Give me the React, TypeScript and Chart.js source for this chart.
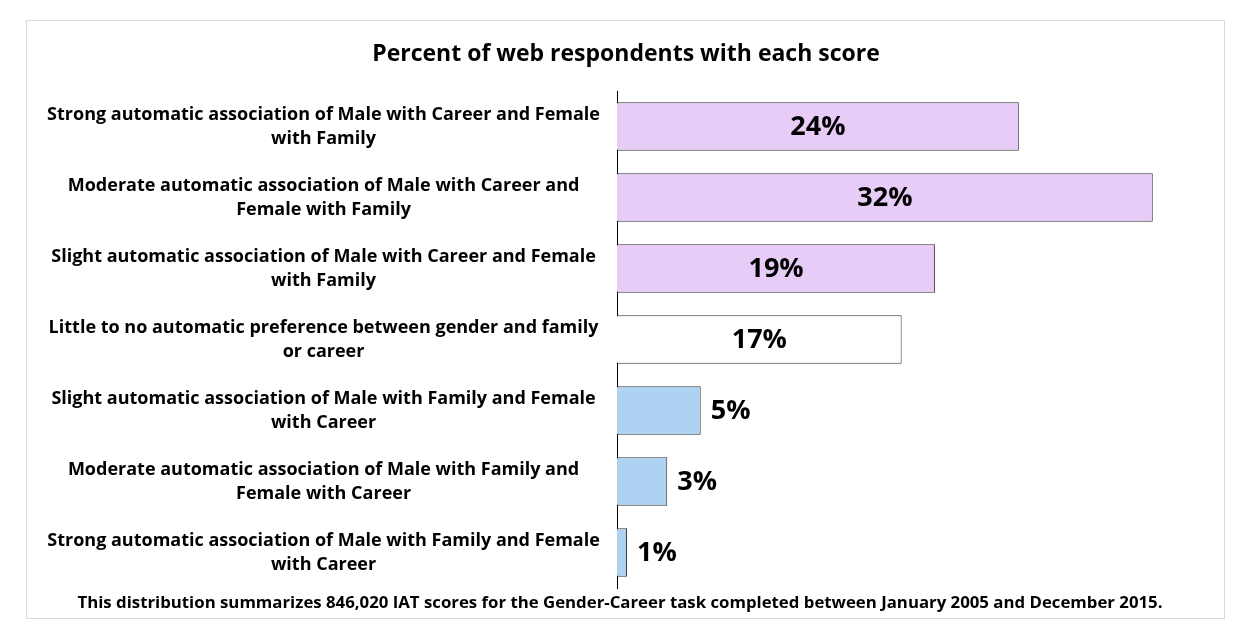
import React, { useEffect, useRef } from "react";
import { Chart, registerables } from "chart.js";

Chart.register(...registerables);

const categories: string[][] = [
  ["Strong automatic association of Male with Career and Female", "with Family"],
  ["Moderate automatic association of Male with Career and", "Female with Family"],
  ["Slight automatic association of Male with Career and Female", "with Family"],
  ["Little to no automatic preference between gender and family", "or career"],
  ["Slight automatic association of Male with Family and Female", "with Career"],
  ["Moderate automatic association of Male with Family and", "Female with Career"],
  ["Strong automatic association of Male with Family and Female", "with Career"],
];
const percentValues: number[] = [24, 32, 19, 17, 5, 3, 0.6];
const valueLabels: string[] = ["24%", "32%", "19%", "17%", "5%", "3%", "1%"];
const barColors: string[] = ["#E6CCF7", "#E6CCF7", "#E6CCF7", "#FFFFFF", "#AED3F2", "#AED3F2", "#AED3F2"];
const titleText = "Percent of web respondents with each score";
const footerText =
  "This distribution summarizes 846,020 IAT scores for the Gender-Career task completed between January 2005 and December 2015.";

const FONT = "'Open Sans', 'Liberation Sans', sans-serif";

export default function App() {
  const ref = useRef<HTMLCanvasElement | null>(null);
  useEffect(() => {
    if (!ref.current) return;
    const decor = {
      id: "decor",
      beforeDraw(chart: any) {
        const ctx = chart.ctx;
        ctx.save();
        ctx.fillStyle = "#ffffff";
        ctx.fillRect(0, 0, chart.width, chart.height);
        ctx.strokeStyle = "#d9d9d9";
        ctx.lineWidth = 1;
        ctx.strokeRect(26.5, 20.5, 1198, 598);
        ctx.fillStyle = "#000";
        ctx.textAlign = "center";
        ctx.textBaseline = "middle";
        ctx.font = `bold 23px ${FONT}`;
        ctx.fillText(titleText, 626, 54);
        ctx.font = `bold 16.8px ${FONT}`;
        ctx.fillText(footerText, 620, 603);
        ctx.restore();
      },
      afterDatasetsDraw(chart: any) {
        const ctx = chart.ctx;
        const meta = chart.getDatasetMeta(0);
        ctx.save();
        ctx.fillStyle = "#000";
        ctx.font = `bold 27px ${FONT}`;
        ctx.textBaseline = "middle";
        meta.data.forEach((bar: any, i: number) => {
          const v = percentValues[i];
          if (v > 10) {
            ctx.textAlign = "center";
            ctx.fillText(valueLabels[i], (bar.x + bar.base) / 2, bar.y + 1);
          } else {
            ctx.textAlign = "left";
            ctx.fillText(valueLabels[i], bar.x + 10, bar.y + 1);
          }
        });
        ctx.restore();
      },
    };
    const chart = new Chart(ref.current, {
      type: "bar",
      data: {
        labels: categories,
        datasets: [
          {
            data: percentValues,
            backgroundColor: barColors,
            borderColor: "#333333",
            borderWidth: 1,
            barPercentage: 0.68,
            categoryPercentage: 1,
          },
        ],
      },
      options: {
        indexAxis: "y",
        animation: false,
        responsive: false,
        maintainAspectRatio: false,
        layout: { padding: { left: 26, right: 43, top: 91, bottom: 46 } },
        plugins: { legend: { display: false }, title: { display: false }, tooltip: { enabled: false } },
        scales: {
          x: { display: false, min: 0, max: 35 },
          y: {
            grid: { display: false, drawTicks: false },
            border: { display: true, color: "#000", width: 1 },
            afterFit(scale: any) {
              scale.width = 591;
            },
            ticks: {
              crossAlign: "center",
              padding: 17,
              color: "#000",
              font: { family: FONT, weight: "bold", size: 18, lineHeight: 1.33 },
            },
          },
        },
      },
      plugins: [decor],
    });
    return () => chart.destroy();
  }, []);
  return (
    <div style={{ position: "fixed", left: 0, top: 0, width: 1246, height: 634 }}>
      <canvas ref={ref} width={1246} height={634} style={{ width: 1246, height: 634 }} />
    </div>
  );
}
